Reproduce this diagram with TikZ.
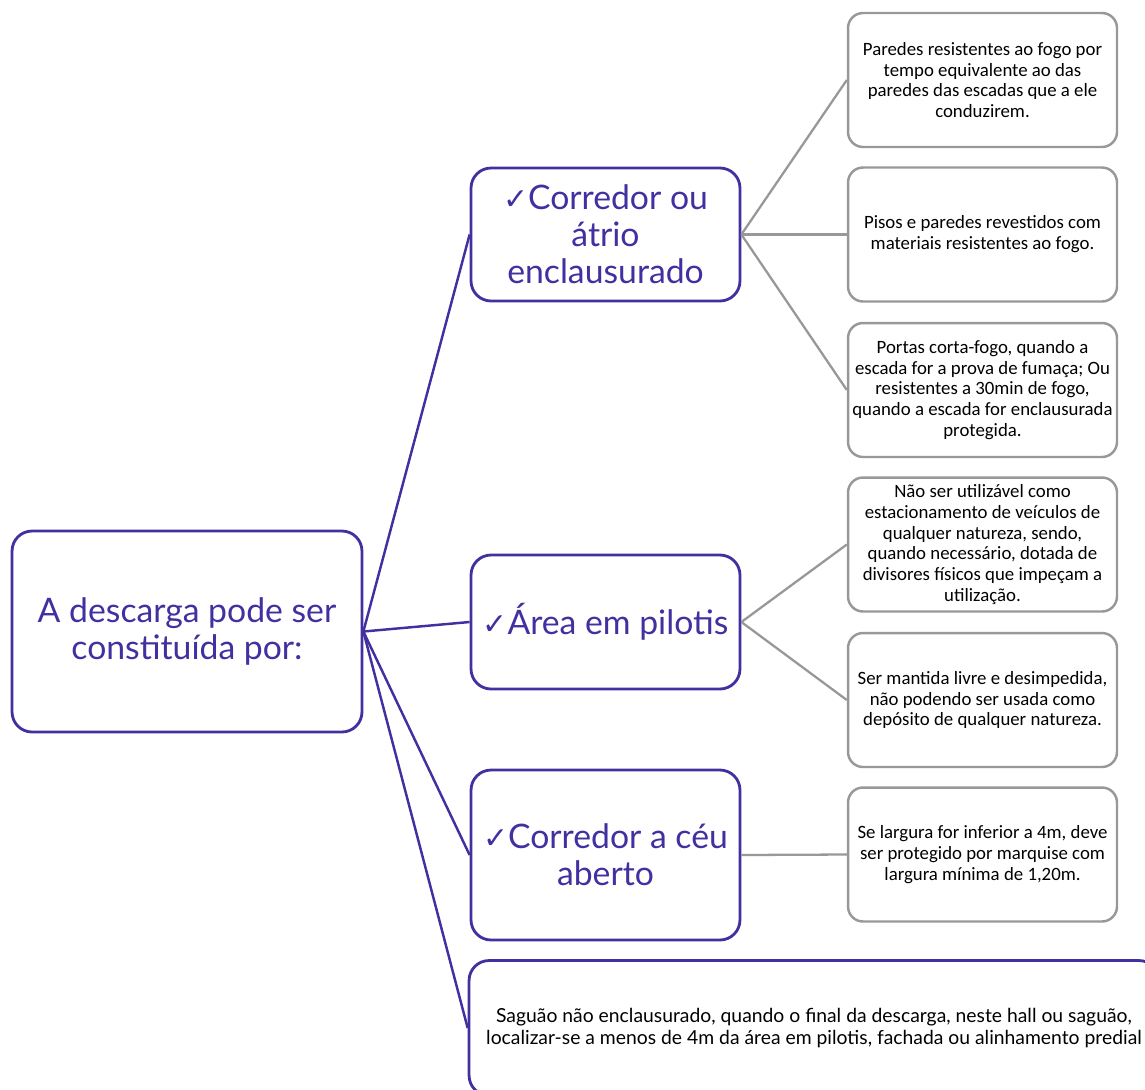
\documentclass[tikz,border=0pt]{standalone}
\usepackage{fontspec}
\setmainfont{Lato}
\newfontfamily\boxfont{Carlito}
\newfontfamily\checkfont{DejaVu Sans}
\usetikzlibrary{positioning}
\definecolor{roxo}{RGB}{64,48,160}
\definecolor{cinza}{RGB}{152,152,152}
\tikzstyle{mainbox}=[rectangle,rounded corners=0.4cm,draw=roxo,line width=1.6pt,text=roxo,align=center,font=\fontsize{19.2}{21}\selectfont,inner sep=0pt]
\tikzstyle{infobox}=[rectangle,rounded corners=0.3cm,draw=cinza,line width=1.4pt,align=center,font=\boxfont\fontsize{10.7}{11.9}\selectfont,minimum width=5.38cm,minimum height=2.68cm,inner sep=0pt]
\tikzstyle{mainedge} = [draw,roxo,line width=1.4pt]
\tikzstyle{infoedge} = [draw,cinza,line width=1.3pt]
\newcommand{\ok}{{\checkfont\fontsize{17}{17}\selectfont ✓}}

\begin{document}
\begin{tikzpicture}[x=0.02cm,y=-0.02cm]
    \useasboundingbox (0,0) rectangle (1145,1089);
    % First the root and the three kinds of discharge
    \node[mainbox,minimum width=7cm,minimum height=4.02cm] (root) at (187,631.5) {A descarga pode ser\\constituída por:};
    \foreach \pos/\name/\hgt/\label in {{(605.5,234.5)/corr/2.66cm/\ok Corredor ou\\átrio\\enclausurado}, {(605.5,622)/pil/2.68cm/\ok Área em pilotis}, {(605.5,855)/ceu/3.4cm/\ok Corredor a céu\\aberto}}
        \node[mainbox,minimum width=5.38cm,minimum height=\hgt] (\name) at \pos {\label};
    \node[mainbox,text=black,minimum width=13.8cm,minimum height=2.7cm,font=\fontsize{11}{12.5}\selectfont] (sag) at (814,1028) {Saguão não enclausurado, quando o final da descarga, neste hall ou saguão,\\localizar-se a menos de 4m da área em pilotis, fachada ou alinhamento predial};

    % Then the requirements on the right
    \foreach \pos/\name/\label in {{(982.5,80)/R1/Paredes resistentes ao fogo por\\tempo equivalente ao das\\paredes das escadas que a ele\\conduzirem.}, {(982.5,234.5)/R2/Pisos e paredes revestidos com\\materiais resistentes ao fogo.}, {(982.5,390)/R3/Portas corta-fogo, quando a\\escada for a prova de fumaça; Ou\\resistentes a 30min de fogo,\\quando a escada for enclausurada\\protegida.}, {(982.5,544.5)/R4/Não ser utilizável como\\estacionamento de veículos de\\qualquer natureza, sendo,\\quando necessário, dotada de\\divisores físicos que impeçam a\\utilização.}, {(982.5,700)/R5/Ser mantida livre e desimpedida,\\não podendo ser usada como\\depósito de qualquer natureza.}, {(982.5,854.5)/R6/Se largura for inferior a 4m, deve\\ser protegido por marquise com\\largura mínima de 1,20m.}}
        \node[infobox] (\name) at \pos {\label};

    % Connect root with the kinds
  \foreach \dest in {corr, pil, ceu, sag}
          \path[mainedge] (root.east) -- (\dest.west);

    % Connect kinds with requirements
  \foreach \source/ \dest in {corr/R1, corr/R2, corr/R3, pil/R4, pil/R5, ceu/R6}
          \path[infoedge] (\source.east) -- (\dest.west);
\end{tikzpicture}
\end{document}
